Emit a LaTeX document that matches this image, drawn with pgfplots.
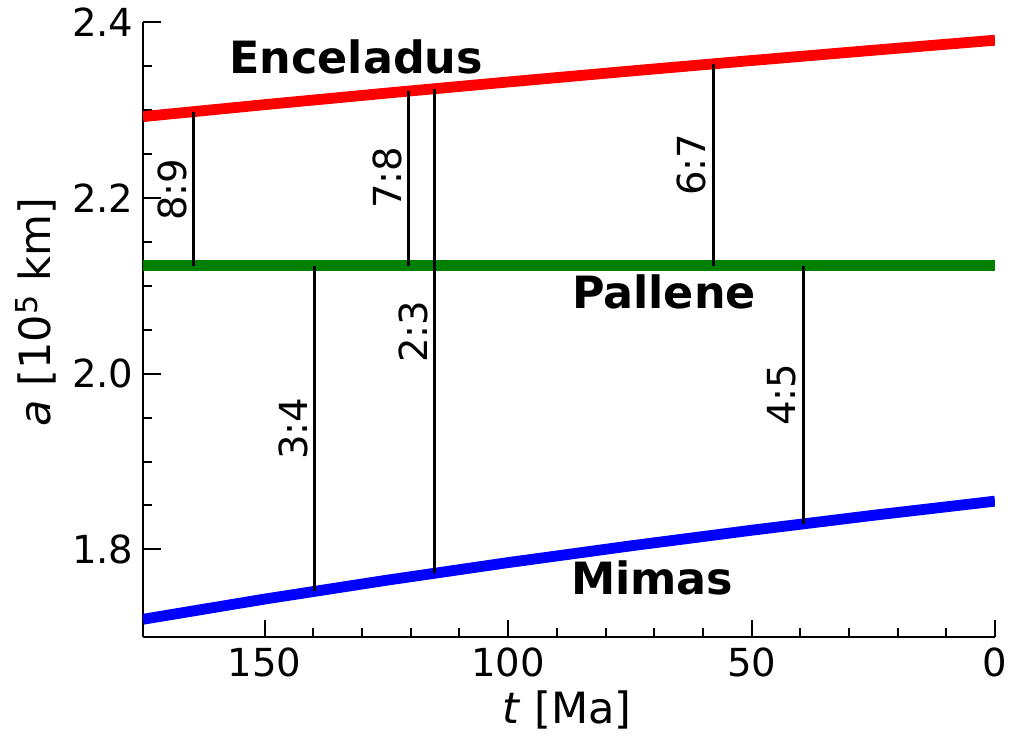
\documentclass[border=0pt]{standalone}
\usepackage{fontspec}
\setmainfont{DejaVu Sans}
\usepackage{pgfplots}
\pgfplotsset{compat=1.18}

\definecolor{mplgreen}{RGB}{0,128,0}

% semi-major axes [10^5 km] against time before present [Ma]
\pgfplotstableread{
t      a
0      2.3793
25     2.3679
50     2.3562
75     2.3442
100    2.3318
125    2.3191
150    2.3060
175    2.2924
}\enceladus
\pgfplotstableread{
t      a
0      2.1228
175    2.1228
}\pallene
\pgfplotstableread{
t      a
0      1.8549
25     1.8388
50     1.8218
75     1.8039
100    1.7850
125    1.7649
150    1.7435
175    1.7205
}\mimas

\newcommand{\ticksize}{\fontsize{27.8}{33}\selectfont}
\newcommand{\labsize}{\fontsize{31}{37}\selectfont}
\newcommand{\namesize}{\bfseries\fontsize{32}{38}\selectfont}

\begin{document}
\begin{tikzpicture}
\begin{axis}[
  name=ax,
  scale only axis,
  width=613.44pt, height=443pt,
  xmin=0, xmax=175, ymin=1.70, ymax=2.40,
  x dir=reverse,
  axis lines*=left,
  axis line style={line width=1.44pt, black},
  tick align=inside,
  major tick length=12.7pt,
  minor tick length=6.5pt,
  tick style={line width=1.44pt, black},
  xtick={0,50,100,150},
  ytick={1.8,2.0,2.2,2.4},
  minor x tick num=4,
  minor y tick num=3,
  tick label style={font=\ticksize, /pgf/number format/assume math mode=true},
  yticklabel style={inner sep=0pt, xshift=-6.6pt,
    /pgf/number format/.cd, fixed, fixed zerofill, precision=1},
  xticklabel style={inner sep=0pt, yshift=-7.6pt},
  every axis x label/.style={at={(axis description cs:0.4977,-0.118)}, anchor=center, font=\labsize},
  every axis y label/.style={at={(axis description cs:-0.1256,0.5287)}, anchor=center, rotate=90, font=\labsize},
  xlabel={\textit{t} [Ma]},
  ylabel={\textit{a} [10\textsuperscript{5} km]},
  clip=true,
]
\addplot[red, line width=7.8pt, line join=round] table[x=t, y=a] {\enceladus};
\addplot[mplgreen, line width=7.8pt] table[x=t, y=a] {\pallene};
\addplot[blue, line width=7.8pt, line join=round] table[x=t, y=a] {\mimas};

% mean-motion resonances
\addplot[black, line width=2.3pt] coordinates {(164.6,2.1228) (164.6,2.2981)};
\addplot[black, line width=2.3pt] coordinates {(120.4,2.1228) (120.4,2.3214)};
\addplot[black, line width=2.3pt] coordinates {(115.1,1.7729) (115.1,2.3241)};
\addplot[black, line width=2.3pt] coordinates {(57.9,2.1228) (57.9,2.3524)};
\addplot[black, line width=2.3pt] coordinates {(139.7,1.7523) (139.7,2.1228)};
\addplot[black, line width=2.3pt] coordinates {(39.4,1.8290) (39.4,2.1228)};

\node[rotate=90, anchor=base, font=\ticksize] at ([xshift=-5.2pt]axis cs:164.6,2.2091) {8:9};
\node[rotate=90, anchor=base, font=\ticksize] at ([xshift=-5.2pt]axis cs:120.4,2.2227) {7:8};
\node[rotate=90, anchor=base, font=\ticksize] at ([xshift=-5.2pt]axis cs:115.1,2.0477) {2:3};
\node[rotate=90, anchor=base, font=\ticksize] at ([xshift=-5.2pt]axis cs:57.9,2.2375) {6:7};
\node[rotate=90, anchor=base, font=\ticksize] at ([xshift=-5.2pt]axis cs:139.7,1.9375) {3:4};
\node[rotate=90, anchor=base, font=\ticksize] at ([xshift=-5.2pt]axis cs:39.4,1.9761) {4:5};

\node[anchor=base, font=\namesize] at (axis cs:131.2,2.3409) {Enceladus};
\node[anchor=base, font=\namesize] at (axis cs:68.0,2.0739) {Pallene};
\node[anchor=base, font=\namesize] at (axis cs:70.4,1.7489) {Mimas};
\end{axis}
\path ([shift={(-102.96pt,-71.06pt)}]ax.south west) rectangle ([shift={(624.96pt,458.86pt)}]ax.south west);
\end{tikzpicture}
\end{document}
